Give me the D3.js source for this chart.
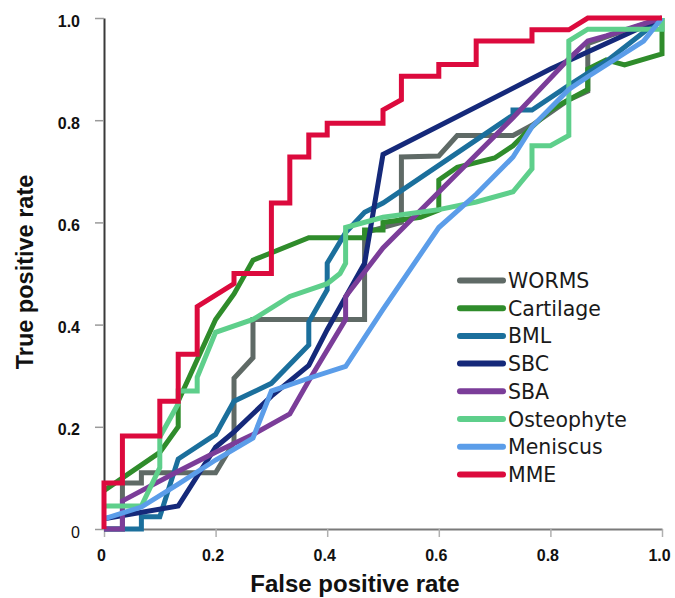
<!DOCTYPE html>
<html>
<head>
<meta charset="utf-8">
<script src="https://cdn.jsdelivr.net/npm/d3@7"></script>
<style>
  html, body { margin: 0; padding: 0; background: #fff; }
  svg { display: block; }
</style>
</head>
<body>
<svg id="chart" width="675" height="598"></svg>
<script>
// ---- data (FPR, TPR pairs) ----
const seriesNames = ["WORMS", "Cartilage", "BML", "SBC", "SBA", "Osteophyte", "Meniscus", "MME"];
const seriesColors = ["#5f6a66", "#2f8c2b", "#1b6f9c", "#15297a", "#7b3d99", "#5ecf8b", "#5b9de9", "#dc0a3d"];
const xTicks = [0, 0.2, 0.4, 0.6, 0.8, 1.0];
const yTicks = [0, 0.2, 0.4, 0.6, 0.8, 1.0];

const worms = [[0,0],[0.033,0],[0.033,0.09],[0.067,0.09],[0.067,0.11],[0.2,0.11],[0.233,0.17],[0.233,0.295],[0.267,0.335],[0.267,0.41],[0.467,0.41],[0.467,0.58],[0.533,0.6],[0.533,0.728],[0.6,0.73],[0.633,0.77],[0.733,0.77],[0.767,0.79],[0.833,0.84],[0.867,0.857],[0.867,0.95],[0.9,0.963],[1,1]];
const cartilage = [[0,0.075],[0.1,0.15],[0.133,0.2],[0.133,0.25],[0.2,0.41],[0.233,0.46],[0.267,0.526],[0.367,0.57],[0.467,0.57],[0.467,0.585],[0.5,0.585],[0.5,0.6],[0.567,0.61],[0.6,0.624],[0.6,0.683],[0.633,0.708],[0.7,0.726],[0.733,0.75],[0.767,0.787],[0.8,0.82],[0.833,0.84],[0.867,0.86],[0.867,0.9],[0.9,0.918],[0.933,0.908],[1,0.93],[1,1]];
const bml = [[0,0],[0.067,0],[0.067,0.024],[0.1,0.024],[0.133,0.137],[0.2,0.185],[0.233,0.25],[0.3,0.285],[0.367,0.36],[0.367,0.405],[0.4,0.468],[0.4,0.52],[0.433,0.58],[0.467,0.62],[0.5,0.638],[0.733,0.81],[0.733,0.82],[0.767,0.82],[0.833,0.868],[0.9,0.915],[1,1]];
const sbc = [[0,0.02],[0.133,0.045],[0.2,0.16],[0.233,0.19],[0.3,0.26],[0.367,0.32],[0.4,0.39],[0.467,0.52],[0.5,0.733],[0.8,0.9],[1,1]];
const sba = [[0,0],[0.033,0],[0.033,0.055],[0.133,0.113],[0.2,0.15],[0.267,0.185],[0.333,0.225],[0.367,0.29],[0.433,0.41],[0.433,0.455],[0.5,0.55],[0.733,0.805],[0.833,0.92],[0.867,0.955],[0.9,0.965],[1,1]];
const osteophyte = [[0,0.045],[0.067,0.045],[0.1,0.12],[0.1,0.18],[0.133,0.245],[0.133,0.27],[0.167,0.27],[0.167,0.297],[0.2,0.385],[0.267,0.41],[0.333,0.455],[0.4,0.48],[0.423,0.5],[0.433,0.52],[0.433,0.59],[0.5,0.61],[0.6,0.625],[0.667,0.64],[0.733,0.66],[0.767,0.705],[0.767,0.75],[0.8,0.75],[0.833,0.77],[0.833,0.955],[0.867,0.978],[1,0.978],[1,1]];
const meniscus = [[0,0.02],[0.067,0.043],[0.133,0.088],[0.2,0.135],[0.267,0.178],[0.3,0.27],[0.367,0.295],[0.433,0.318],[0.5,0.43],[0.6,0.59],[0.667,0.655],[0.733,0.728],[0.767,0.787],[0.833,0.86],[0.867,0.885],[0.967,0.955],[1,1]];
const mme = [[0,0],[0,0.09],[0.033,0.09],[0.033,0.182],[0.1,0.182],[0.1,0.25],[0.133,0.25],[0.133,0.342],[0.167,0.342],[0.167,0.435],[0.233,0.48],[0.233,0.5],[0.3,0.5],[0.3,0.638],[0.333,0.638],[0.333,0.728],[0.367,0.728],[0.367,0.771],[0.4,0.771],[0.4,0.794],[0.5,0.794],[0.5,0.82],[0.533,0.84],[0.533,0.886],[0.6,0.886],[0.6,0.909],[0.667,0.909],[0.667,0.955],[0.767,0.955],[0.767,0.977],[0.833,0.977],[0.867,1],[1,1]];

const seriesValues = [worms, cartilage, bml, sbc, sba, osteophyte, meniscus, mme];

// ---- build ----
const svg = d3.select("#chart");
const x = d3.scaleLinear().domain([0, 1]).range([104, 662]);
const y = d3.scaleLinear().domain([0, 1]).range([529, 18]);

const fmt = d => d === 0 ? "0" : d.toFixed(1);

// x axis
const gx = svg.append("g").attr("transform", `translate(0,${y(0)})`)
  .call(d3.axisBottom(x).tickValues(xTicks).tickFormat(fmt).tickSize(8).tickSizeOuter(0));
gx.select(".domain").attr("stroke", "#7a7a7a").attr("stroke-width", 2);
gx.selectAll(".tick line").attr("stroke", "#b0b0b0").attr("stroke-width", 1.5);
gx.selectAll(".tick text")
  .attr("y", 21).attr("dx", -3)
  .attr("font-family", "Liberation Sans, Arial, sans-serif")
  .attr("font-size", 16).attr("font-weight", "bold").attr("fill", "#111");

// y axis
const gy = svg.append("g").attr("transform", `translate(${x(0)},0)`)
  .call(d3.axisLeft(y).tickValues(yTicks).tickFormat(fmt).tickSize(9).tickSizeOuter(0));
gy.select(".domain").attr("stroke", "#3a3a3a").attr("stroke-width", 2);
gy.selectAll(".tick line").attr("stroke", "#9a9a9a").attr("stroke-width", 1.5);
gy.selectAll(".tick text")
  .attr("x", -24).attr("dy", "0.5em")
  .attr("font-family", "Liberation Sans, Arial, sans-serif")
  .attr("font-size", 16)
  .attr("font-weight", d => d === 0 ? "normal" : "bold")
  .attr("fill", "#111");

// curves
const line = d3.line().x(d => x(d[0])).y(d => y(d[1]));
svg.append("g").selectAll("path")
  .data(seriesValues)
  .join("path")
  .attr("d", line)
  .attr("fill", "none")
  .attr("stroke", (d, i) => seriesColors[i])
  .attr("stroke-width", 5)
  .attr("stroke-linejoin", "miter")
  .attr("stroke-linecap", "butt");

// legend
const legend = svg.append("g");
const rowY = i => 280.5 + i * 27.7;
seriesNames.forEach((name, i) => {
  legend.append("line")
    .attr("x1", 460).attr("x2", 503)
    .attr("y1", rowY(i)).attr("y2", rowY(i))
    .attr("stroke", seriesColors[i]).attr("stroke-width", 6)
    .attr("stroke-linecap", "round");
  legend.append("text")
    .attr("x", 508).attr("y", rowY(i) + 7.5)
    .attr("font-family", "DejaVu Sans, sans-serif")
    .attr("font-size", 20.5)
    .attr("fill", "#1a1a1a")
    .text(name);
});

// axis titles
svg.append("text")
  .attr("x", 355).attr("y", 592)
  .attr("text-anchor", "middle")
  .attr("font-family", "Liberation Sans, Arial, sans-serif")
  .attr("font-size", 24).attr("font-weight", "bold").attr("fill", "#111")
  .text("False positive rate");

svg.append("text")
  .attr("transform", "translate(33,272) rotate(-90)")
  .attr("text-anchor", "middle")
  .attr("font-family", "Liberation Sans, Arial, sans-serif")
  .attr("font-size", 23.5).attr("font-weight", "bold").attr("fill", "#111")
  .text("True positive rate");
</script>
</body>
</html>
